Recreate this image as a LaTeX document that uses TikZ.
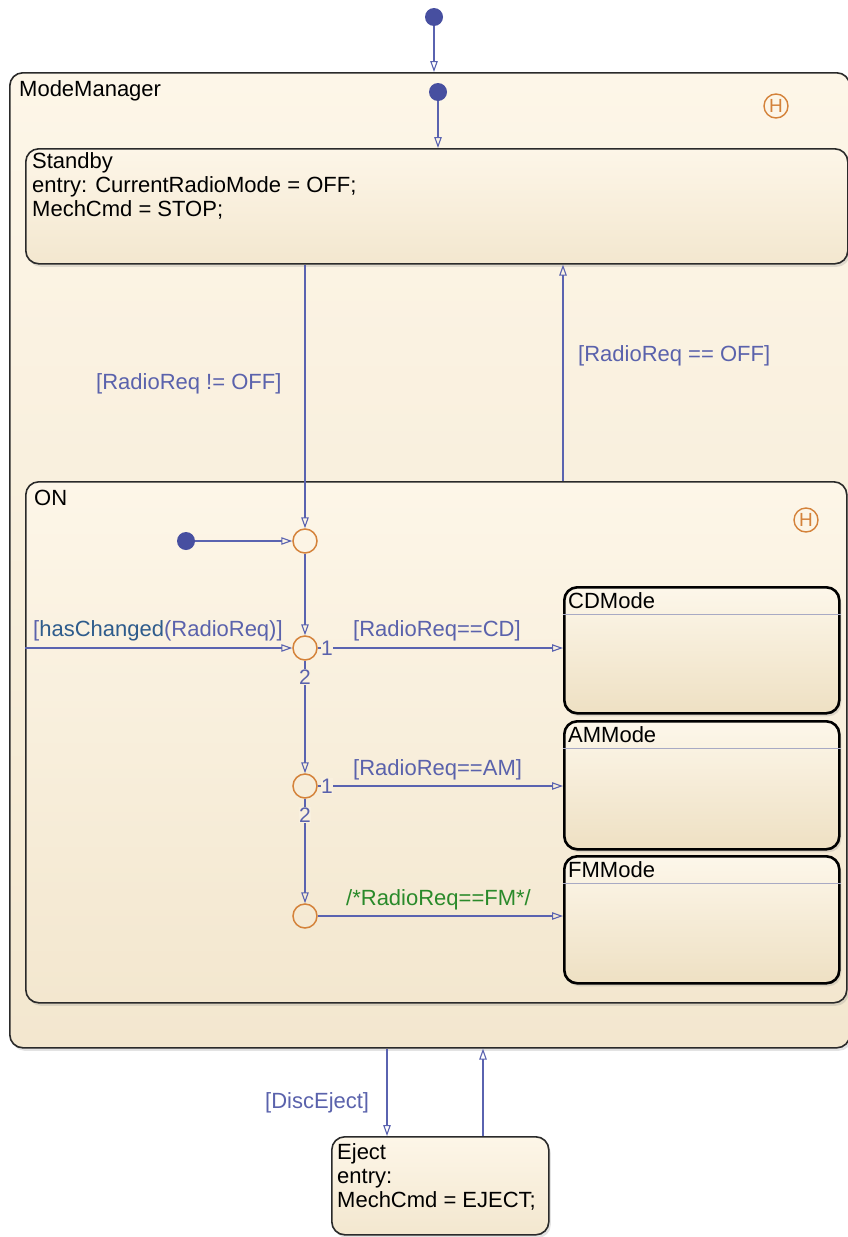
\documentclass[tikz,border=0pt]{standalone}
\usepackage{fontspec}
\setmainfont{Liberation Sans}
\usetikzlibrary{arrows.meta,shadows}
\definecolor{trblue}{HTML}{5A63B0}
\definecolor{lblblue}{HTML}{5A62AC}
\definecolor{hcblue}{HTML}{2E5C8C}
\definecolor{dotblue}{HTML}{474FA0}
\definecolor{juncor}{HTML}{D4823A}
\definecolor{cmtgreen}{HTML}{2A8A2A}
\definecolor{bgtop}{HTML}{FDF6E8}
\definecolor{bgbot}{HTML}{F3E7CF}
\definecolor{sttop}{HTML}{FDF7EA}
\definecolor{stbot}{HTML}{EEE0C3}
\definecolor{sepline}{HTML}{A8AAC4}
\definecolor{edgecol}{HTML}{2A2A2A}
\colorlet{labelbg}{bgtop!60!bgbot}
\tikzset{
  chart/.style={draw=edgecol, line width=1.6pt, rounded corners=13pt,
    top color=bgtop, bottom color=bgbot, anchor=north west, inner sep=0pt,
    drop shadow={shadow xshift=2pt, shadow yshift=-3pt, opacity=0.22}},
  leaf/.style={chart, draw=black, line width=2.6pt, top color=sttop, bottom color=stbot},
  txt/.style={font=\fontsize{22}{24}\selectfont, text=black, inner sep=0pt, anchor=base west, align=left},
  lbl/.style={font=\fontsize{22}{24}\selectfont, text=lblblue, inner sep=0pt, anchor=base west},
  num/.style={font=\fontsize{21}{24}\selectfont, text=lblblue, inner sep=0.5pt, fill=labelbg},
  tr/.style={draw=trblue, line width=1.3pt, -{Triangle[open, length=11pt, width=7.5pt, line width=1.1pt]}},
  initdot/.style={circle, fill=dotblue, inner sep=0pt, minimum size=18pt},
  junc/.style={circle, draw=juncor, line width=1.5pt, inner sep=0pt, minimum size=24pt},
  hist/.style={circle, draw=juncor, text=juncor, line width=1.4pt, inner sep=0pt, minimum size=24pt, font=\fontsize{19}{19}\selectfont},
  sepl/.style={draw=sepline, line width=1pt}
}
\begin{document}
\begin{tikzpicture}[x=1pt,y=-1pt]
\useasboundingbox (0,0) rectangle (848,1237);
\fill[white] (0,0) rectangle (848,1237);

% charts
\node[chart, minimum width=840pt, minimum height=975pt] (mm) at (9,72) {};
\node[chart, minimum width=822pt, minimum height=115pt] (standby) at (25,148) {};
\node[chart, minimum width=821pt, minimum height=521pt] (on) at (25,481) {};
\node[leaf, minimum width=275pt, minimum height=126pt] (cd) at (563,586) {};
\node[leaf, minimum width=275pt, minimum height=128pt] (am) at (563,720) {};
\node[leaf, minimum width=275pt, minimum height=127pt] (fm) at (563,855) {};
\node[chart, minimum width=217pt, minimum height=98pt] (eject) at (331,1136) {};

% separators in leaf states
\draw[sepl] ([yshift=-28pt]cd.north west) -- ([yshift=-28pt]cd.north east);
\draw[sepl] ([yshift=-28pt]am.north west) -- ([yshift=-28pt]am.north east);
\draw[sepl] ([yshift=-28pt]fm.north west) -- ([yshift=-28pt]fm.north east);

% state texts (base anchor = baseline of last line)
\node[txt] (mmt) at (19,96) {ModeManager};
\node[txt] (sbt) at (32,216) {Standby\\entry: CurrentRadioMode = OFF;\\MechCmd = STOP;};
\node[txt] (ont) at (34,505) {ON};
\node[txt] (cdt) at ([xshift=5pt, yshift=-22pt]cd.north west) {CDMode};
\node[txt] (amt) at ([xshift=5pt, yshift=-22pt]am.north west) {AMMode};
\node[txt] (fmt) at ([xshift=5pt, yshift=-22pt]fm.north west) {FMMode};
\node[txt] (ejt) at (337,1207) {Eject\\entry:\\MechCmd = EJECT;};

% history junctions
\node[hist] (h1) at (776,106) {H};
\node[hist] (h2) at (806,520) {H};

% default transitions and junctions
\node[initdot] (d0) at (434,17) {};
\node[initdot] (d1) at (438,92) {};
\node[initdot] (d2) at (186,541) {};
\node[junc] (j1) at (305,541) {};
\node[junc] (j2) at (305,648) {};
\node[junc] (j3) at (305,786) {};
\node[junc] (j4) at (305,916) {};
\coordinate (offx) at (563,300);
\coordinate (ejA) at (387,1100);
\coordinate (ejB) at (483,1100);

\draw[tr] (d0) -- (d0 |- mm.north);
\draw[tr] (d1) -- (d1 |- standby.north);
\draw[tr] (j1 |- standby.south) -- (j1);
\draw[tr] (offx |- on.north) -- (offx |- standby.south);
\draw[tr] (d2) -- (j1);
\draw[tr] (j1) -- (j2);
\draw[tr] (j2 -| on.west) -- (j2);
\draw[tr] (j2) -- (j2 -| cd.west);
\draw[tr] (j2) -- (j3);
\draw[tr] (j3) -- (j3 -| am.west);
\draw[tr] (j3) -- (j4);
\draw[tr] (j4) -- (j4 -| fm.west);
\draw[tr] (ejA |- mm.south) -- (ejA |- eject.north);
\draw[tr] (ejB |- eject.north) -- (ejB |- mm.south);

% transition labels
\node[lbl] (l1) at (96,389) {[RadioReq != OFF]};
\node[lbl] (l2) at (578,361) {[RadioReq == OFF]};
\node[lbl] (l3) at (33,636) {[\textcolor{hcblue}{hasChanged}(RadioReq)]};
\node[lbl] (l4) at (353,636) {[RadioReq==CD]};
\node[lbl] (l5) at (353,775) {[RadioReq==AM]};
\node[lbl, text=cmtgreen] (l6) at (346,905) {/*RadioReq==FM*/};
\node[lbl] (l7) at (265,1108) {[DiscEject]};
\node[num] (n1) at (327,648) {1};
\node[num] (n2) at (305,677) {2};
\node[num] (n3) at (327,786) {1};
\node[num] (n4) at (305,815) {2};
\end{tikzpicture}
\end{document}
